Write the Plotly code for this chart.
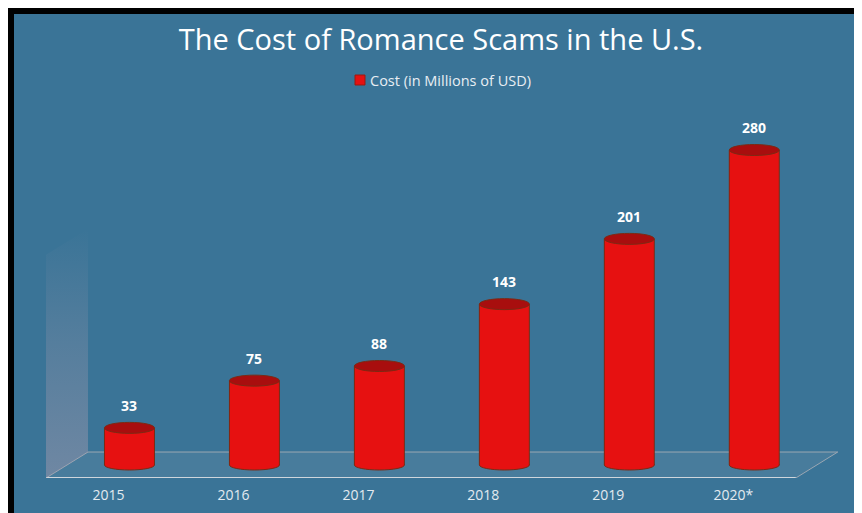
import plotly.graph_objects as go

# ---- data ----
years = ["2015", "2016", "2017", "2018", "2019", "2020*"]
cost = [33, 75, 88, 143, 201, 280]
series_name = "Cost (in Millions of USD)"
title_text = "The Cost of Romance Scams in the U.S."

# ---- layout geometry (pixels, figure coordinates) ----
FW, FH = 862, 513
L, T = 38, 107
UNIT_PX = 125                       # pixels per category
PH = 363
X0 = -0.5
X1 = len(years) - 0.5
X1_EXT = X1 + 0.45                  # extra room for the 3D floor corner
PW = round((X1_EXT - X0) * UNIT_PX)
R, B = FW - L - PW, FH - T - PH
PX_PER_UNIT = 1.125
Y0 = -13 / PX_PER_UNIT
Y1 = Y0 + PH / PX_PER_UNIT
DEPTH_DX = 42 / UNIT_PX             # floor depth shift in x units
DEPTH_DY = 26 / PX_PER_UNIT         # floor depth shift in y units
BAR_SHIFT = DEPTH_DX / 2
HALF_W = 0.2
RY_BOT = 5 / PX_PER_UNIT
RY_TOP = 5.5 / PX_PER_UNIT

BG = "#3a7497"
RED = "#e61111"
RED_TOP = "#a80e0e"
EDGE = "#7c2a14"

def px_x(px):
    return (px - L) / PW

def px_y(py):
    return (FH - B - py) / PH

positions = list(range(len(years)))
centers = [p + BAR_SHIFT for p in positions]

fig = go.Figure()

# side wall (fading upwards)
wall_top = 210
fig.add_trace(go.Scatter(
    x=[X0, X0 + DEPTH_DX, X0 + DEPTH_DX, X0, X0],
    y=[Y0, Y0 + DEPTH_DY, wall_top, wall_top - DEPTH_DY, Y0],
    fill="toself",
    fillgradient=dict(type="vertical",
                      colorscale=[[0, "rgba(165,155,175,0.5)"],
                                  [0.55, "rgba(165,155,175,0.25)"],
                                  [1, "rgba(165,155,175,0)"]]),
    line=dict(width=0), mode="lines", hoverinfo="skip", showlegend=False))

# cylinder bodies
fig.add_trace(go.Bar(
    x=centers, y=cost, width=2 * HALF_W, name=series_name,
    marker=dict(color=RED, line=dict(width=0)),
    showlegend=False, hoverinfo="y"))

shapes = []
fy_front, fy_back = Y0, Y0 + DEPTH_DY
floor_path = (f"M {X0},{fy_front} L {X1},{fy_front} L {X1 + DEPTH_DX},{fy_back} "
              f"L {X0 + DEPTH_DX},{fy_back} Z")
shapes.append(dict(type="path", xref="x", yref="y", layer="below", path=floor_path,
                   fillcolor="rgba(150,170,185,0.16)",
                   line=dict(color="rgba(170,175,182,0.85)", width=1)))
shapes.append(dict(type="line", xref="x", yref="y", layer="below",
                   x0=X0, x1=X1, y0=fy_front, y1=fy_front,
                   line=dict(color="#cfd6dc", width=2)))

for xc, v in zip(centers, cost):
    shapes.append(dict(type="circle", xref="x", yref="y", layer="below",
                       x0=xc - HALF_W, x1=xc + HALF_W, y0=-RY_BOT, y1=RY_BOT,
                       fillcolor=RED, line=dict(color=EDGE, width=1)))
    for sx in (xc - HALF_W, xc + HALF_W):
        shapes.append(dict(type="line", xref="x", yref="y", layer="above",
                           x0=sx, x1=sx, y0=0, y1=v, line=dict(color=EDGE, width=1)))
    shapes.append(dict(type="circle", xref="x", yref="y", layer="above",
                       x0=xc - HALF_W, x1=xc + HALF_W, y0=v - RY_TOP, y1=v + RY_TOP,
                       fillcolor=RED_TOP, line=dict(color=EDGE, width=1)))

# black border on top and left
shapes.append(dict(type="rect", xref="paper", yref="paper", layer="above",
                   x0=px_x(-2), x1=px_x(FW + 2), y0=px_y(6), y1=px_y(-2),
                   fillcolor="black", line=dict(width=0)))
shapes.append(dict(type="rect", xref="paper", yref="paper", layer="above",
                   x0=px_x(-2), x1=px_x(6), y0=px_y(FH + 2), y1=px_y(-2),
                   fillcolor="black", line=dict(width=0)))

# legend (marker + label)
shapes.append(dict(type="rect", xref="paper", yref="paper", layer="above",
                   x0=px_x(347), x1=px_x(357), y0=px_y(77), y1=px_y(67),
                   fillcolor=RED, line=dict(color="#9a1a10", width=1)))

annotations = [dict(x=px_x(360), y=px_y(72), xref="paper", yref="paper",
                    text=series_name, showarrow=False, xanchor="left", yanchor="middle",
                    font=dict(family="Open Sans", size=14.5, color="#e8eef3"))]
for xc, v in zip(centers, cost):
    annotations.append(dict(x=xc, y=v, xref="x", yref="y", text=f"<b>{v}</b>",
                            showarrow=False, yanchor="bottom", yshift=11,
                            font=dict(family="Open Sans", size=14, color="white")))

fig.update_layout(
    width=FW, height=FH,
    margin=dict(l=L, r=R, t=T, b=B),
    paper_bgcolor=BG, plot_bgcolor=BG,
    title=dict(text=title_text, x=433 / FW, xanchor="center",
               y=1 - 32 / FH, yanchor="middle",
               font=dict(family="Open Sans", size=29, color="white")),
    showlegend=False,
    xaxis=dict(range=[X0, X1_EXT], tickmode="array", tickvals=positions, ticktext=years,
               showgrid=False, zeroline=False, showline=False, ticks="",
               ticklabelstandoff=7,
               tickfont=dict(family="Open Sans", size=14, color="#e3eaf0"),
               fixedrange=True),
    yaxis=dict(range=[Y0, Y1], visible=False, showgrid=False, zeroline=False,
               fixedrange=True),
    bargap=0, shapes=shapes, annotations=annotations,
)

fig.write_html("out.html")
